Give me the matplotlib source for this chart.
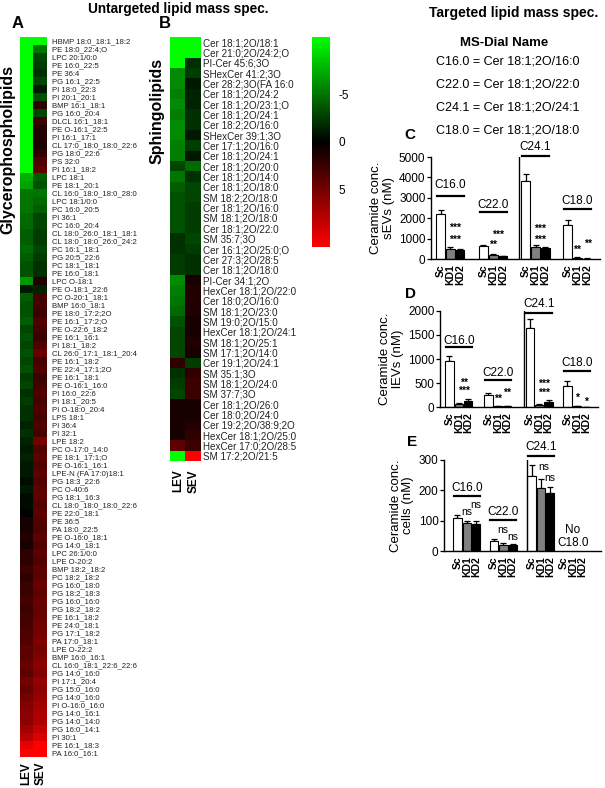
import matplotlib.pyplot as plt
import numpy as np
from matplotlib.colors import LinearSegmentedColormap

plt.rcParams['font.family'] = ['Liberation Sans', 'DejaVu Sans']
plt.rcParams['axes.unicode_minus'] = False

W, H = 605, 788

# ---- untargeted heatmaps (row z-scores) ----
names_a = ["HBMP 18:0_18:1_18:2", "PE 18:0_22:4;O", "LPC 20:1/0:0", "PE 16:0_22:5", "PE 36:4",
           "PG 16:1_22:5", "PI 18:0_22:3", "PI 20:1_20:1", "BMP 16:1_18:1", "PG 16:0_20:4",
           "DLCL 16:1_18:1", "PE O-16:1_22:5", "PI 16:1_17:1", "CL 17:0_18:0_18:0_22:6", "PG 18:0_22:6",
           "PS 32:0", "PI 16:1_18:2", "LPC 18:1", "PE 18:1_20:1", "CL 16:0_18:0_18:0_28:0",
           "LPC 18:1/0:0", "PC 16:0_20:5", "PI 36:1", "PC 16:0_20:4", "CL 18:0_26:0_18:1_18:1",
           "CL 18:0_18:0_26:0_24:2", "PC 16:1_18:1", "PG 20:5_22:6", "PC 18:1_18:1", "PE 16:0_18:1",
           "LPC O-18:1", "PE O-18:1_22:6", "PC O-20:1_18:1", "BMP 16:0_18:1", "PE 18:0_17:2;2O",
           "PE 16:1_17:2;O", "PE O-22:6_18:2", "PE 16:1_16:1", "PI 18:1_18:2", "CL 26:0_17:1_18:1_20:4",
           "PE 16:1_18:2", "PE 22:4_17:1;2O", "PE 16:1_18:1", "PE O-16:1_16:0", "PI 16:0_22:6",
           "PI 18:1_20:5", "PI O-18:0_20:4", "LPS 18:1", "PI 36:4", "PI 32:1",
           "LPE 18:2", "PC O-17:0_14:0", "PE 18:1_17:1;O", "PE O-16:1_16:1", "LPE-N (FA 17:0)18:1",
           "PG 18:3_22:6", "PC O-40:6", "PG 18:1_16:3", "CL 18:0_18:0_18:0_22:6", "PE 22:0_18:1",
           "PE 36:5", "PA 18:0_22:5", "PE O-16:0_18:1", "PG 14:0_18:1", "LPC 26:1/0:0",
           "LPE O-20:2", "BMP 18:2_18:2", "PC 18:2_18:2", "PG 16:0_18:0", "PG 18:2_18:3",
           "PG 16:0_16:0", "PG 18:2_18:2", "PE 16:1_18:2", "PE 24:0_18:1", "PG 17:1_18:2",
           "PA 17:0_18:1", "LPE O-22:2", "BMP 16:0_16:1", "CL 16:0_18:1_22:6_22:6", "PG 14:0_16:0",
           "PI 17:1_20:4", "PG 15:0_16:0", "PG 14:0_16:0", "PI O-16:0_16:0", "PG 14:0_16:1",
           "PG 14:0_14:0", "PG 16:0_14:1", "PI 30:1", "PE 16:1_18:3", "PA 16:0_16:1"]
lev_a = ([-11] * 17 + [-7.5, -7]
         + [-5, -5, -5, -4.5, -4.5, -4, -4, -4.5, -4, -3.5, -3.5]
         + [-6.5, -1]
         + [-4, -3.5, -3.5, -4, -3, -3.5, -3, -3.5, -3, -3.5, -2.5, -3, -2, -2.5, -2]
         + [-2, -1.5, -2, -1.5, -1, -1.5, -1, -1, -0.5, -1, -0.5, -0.5, 0]
         + [1, 1, 1.5, 1, 2, 2, 2.5, 2, 2.5, 2.5, 3, 2.5, 3, 3, 3.5]
         + [3.5, 4, 4, 4.5, 4, 5, 4.5, 5, 5.5, 6, 6, 7, 8, 10, 11])
sev_a = ([-11, -5, -3, -2.5, -2, -3, -1, -3.5, 2, -3, 2.5, 1.5, 1.5, 1.2, 2, 3.5, 4]
         + [-4, -3.5]
         + [-5, -4.5, -4, -3, -3, -2.5, -2.5, -3, -2.5, -2, -2]
         + [1.5, -1.5]
         + [3, 3, 2.5, 3.5, 3, 2.5, 3.5, 4.5, 3, 3.5, 2.5, 3, 3.5, 3, 3.5]
         + [3, 3.5, 3, 5, 3.5, 4, 3.5, 4, 3.5, 4, 4, 3.5, 4]
         + [3.5, 3.5, 4, 3.5, 4, 3.5, 4, 4, 4.5, 4, 4.5, 4.5, 4.5, 5, 5]
         + [5.5, 5, 5.5, 6, 5.5, 6.5, 6, 6.5, 7, 7.5, 7.5, 8.5, 9.5, 11, 11])

names_b = ["Cer 18:1;2O/18:1", "Cer 21:0;2O/24:2;O", "PI-Cer 45:6;3O", "SHexCer 41:2;3O",
           "Cer 28:2;3O(FA 16:0", "Cer 18:1;2O/24:2", "Cer 18:1;2O/23:1;O", "Cer 18:1;2O/24:1",
           "Cer 18:2;2O/16:0", "SHexCer 39:1;3O", "Cer 17:1;2O/16:0", "Cer 18:1;2O/24:1",
           "Cer 18:1;2O/20:0", "Cer 18:1;2O/14:0", "Cer 18:1;2O/18:0", "SM 18:2;2O/18:0",
           "Cer 18:1;2O/16:0", "SM 18:1;2O/18:0", "Cer 18:1;2O/22:0", "SM 35:7;3O",
           "Cer 16:1;2O/25:0;O", "Cer 27:3;2O/28:5", "Cer 18:1;2O/18:0", "PI-Cer 34:1;2O",
           "HexCer 18:1;2O/22:0", "Cer 18:0;2O/16:0", "SM 18:1;2O/23:0", "SM 19:0;2O/15:0",
           "HexCer 18:1;2O/24:1", "SM 18:1;2O/25:1", "SM 17:1;2O/14:0", "Cer 19:1;2O/24:1",
           "SM 35:1;3O", "SM 18:1;2O/24:0", "SM 37:7;3O", "Cer 18:1;2O/26:0",
           "Cer 18:0;2O/24:0", "Cer 19:2;2O/38:9;2O", "HexCer 18:1;2O/25:0", "HexCer 17:0;2O/28:5",
           "SM 17:2;2O/21:5"]
lev_b = [-11, -11, -11, -6, -6, -5.5, -6, -5.5, -6, -6, -5.5, -5.5, -3, -5, -4, -3.5, -3.5,
         -3.5, -3.5, -2, -2, -2.5, -2.5, -6, -5.5, -5, -4.5, -3.5, -3, -3, -3, 2, -2, -2.5,
         -3, 1, 1, 1, 1, 4, -11]
sev_b = [-11, -11, -2, -2.5, -1, -1.5, -1.5, -2, -2, -1, -2.5, -1, -4.5, -2, -3, -3, -2.5,
         -2.5, -2.5, -3, -2.5, -2, -2, 1, 1.5, 1.5, 1.5, 1, 1, 1.5, 1, -2.5, 2, 2.5, 2.5,
         1, 1, 1.5, 2, 2.5, 11]

# ---- targeted ceramides ----
groups = ["C16.0", "C22.0", "C24.1", "C18.0"]
conds = ["Sc", "KD1", "KD2"]
sev_mean = [[2200, 480, 430], [620, 190, 130], [3800, 580, 540], [1650, 70, 20]]
sev_err = [[200, 130, 80], [60, 70, 30], [380, 130, 60], [250, 30, 10]]
lev_mean = [[950, 60, 130], [260, 15, 15], [1650, 40, 100], [430, 20, 5]]
lev_err = [[115, 20, 40], [40, 8, 8], [190, 15, 40], [120, 10, 3]]
cell_mean = [[110, 93, 88], [33, 20, 20], [248, 208, 190]]
cell_err = [[8, 5, 10], [6, 5, 4], [35, 28, 22]]
msdial = ["C16.0 = Cer 18:1;2O/16:0", "C22.0 = Cer 18:1;2O/22:0",
          "C24.1 = Cer 18:1;2O/24:1", "C18.0 = Cer 18:1;2O/18:0"]


def box(x0, y0, x1, y1):
    return [x0 / W, 1 - y1 / H, (x1 - x0) / W, (y1 - y0) / H]


def ftext(x, y, s, **kw):
    fig.text(x / W, 1 - y / H, s, ha='center', va='center', **kw)


fig = plt.figure(figsize=(6.05, 7.88), dpi=100)
cmap = LinearSegmentedColormap.from_list('gkr', ['#00ff00', '#000000', '#ff0000'])


def heatmap(rect, lev, sev, names, fsize, pad, xpad):
    ax = fig.add_axes(box(*rect))
    im = ax.imshow(np.column_stack([lev, sev]), cmap=cmap, vmin=-11, vmax=11,
                   aspect='auto', interpolation='nearest')
    ax.set_yticks(range(len(names)))
    ax.set_yticklabels(names, fontsize=fsize, color='#222222')
    ax.yaxis.tick_right()
    ax.tick_params(axis='y', length=0, pad=pad)
    ax.set_xticks([0, 1])
    ax.set_xticklabels(["LEV", "SEV"], rotation=90, fontsize=8.5, fontweight='bold')
    ax.tick_params(axis='x', length=0, pad=xpad)
    for s in ax.spines.values():
        s.set_visible(False)
    return im


im = heatmap((20, 37, 47, 757), lev_a, sev_a, names_a, 5.6, 3.6, 3.5)
heatmap((170, 37, 201, 461), lev_b, sev_b, names_b, 7.1, 1.5, 6)

cax = fig.add_axes(box(312, 37, 330, 247))
cb = fig.colorbar(im, cax=cax, ticks=[-5, 0, 5])
cb.outline.set_visible(False)
cax.invert_yaxis()
cax.tick_params(length=0, labelsize=8.5, pad=6)

title_font = ['Liberation Sans Narrow', 'Liberation Sans']
ftext(178, 9, "Untargeted lipid mass spec.", fontsize=9.8, fontweight='bold', family=title_font)
ftext(514, 13, "Targeted lipid mass spec.", fontsize=10, fontweight='bold', family=title_font)
ftext(18, 23, "A", fontsize=12, fontweight='bold')
ftext(165, 23, "B", fontsize=12, fontweight='bold')
ftext(8, 150, "Glycerophospholipids", fontsize=11.5, fontweight='bold', rotation=90, family=title_font)
ftext(157, 111, "Sphingolipids", fontsize=11.5, fontweight='bold', rotation=90, family=title_font)
ftext(504, 43, "MS-Dial Name", fontsize=9.5, fontweight='bold')
for i, line in enumerate(msdial):
    ftext(508, 62 + i * 22.7, line, fontsize=9)
ftext(410, 135, "C", fontsize=11, fontweight='bold')
ftext(410, 294, "D", fontsize=11, fontweight='bold')
ftext(412, 442, "E", fontsize=11, fontweight='bold')

colors = ['white', '#808080', 'black']


def bars(rect, starts, xlim, sep, ylim, step, means, errs, ylabel, lab_y, line_y, marks):
    ax = fig.add_axes(box(*rect))
    xs, names = [], []
    for g, s in enumerate(starts):
        for k in range(3):
            xs.append(s + k)
            names.append(conds[k])
            if g < len(means):
                ax.bar(s + k, means[g][k], width=0.92, color=colors[k],
                       edgecolor='black', linewidth=0.8, zorder=2)
                ax.errorbar(s + k, means[g][k], yerr=[[0], [errs[g][k]]], fmt='none',
                            ecolor='black', elinewidth=0.9, capsize=2, capthick=0.9, zorder=1)
        if g < len(lab_y):
            ax.text(s + 1, lab_y[g], groups[g], ha='center', va='center', fontsize=8.5, clip_on=False)
            ax.plot([s - 0.4, s + 2.4], [line_y[g], line_y[g]], color='black', lw=1.6, clip_on=False)
    for g, off, y, t in marks:
        ax.text(starts[g] + off, y, t, ha='center', va='center', fontsize=7.5,
                fontweight='normal' if t == 'ns' else 'bold', clip_on=False)
    ax.axvline(sep, color='black', lw=1.0)
    ax.set_xlim(*xlim)
    ax.set_ylim(0, ylim)
    ax.set_yticks(np.arange(0, ylim + 1, step))
    ax.set_xticks(xs)
    ax.set_xticklabels(names, rotation=90, fontsize=7.5, fontweight='bold')
    ax.tick_params(axis='x', length=0, pad=4)
    ax.tick_params(axis='y', length=3, width=0.9, labelsize=8.5, pad=1)
    ax.spines['top'].set_visible(False)
    ax.spines['right'].set_visible(False)
    ax.spines['left'].set_linewidth(1.0)
    ax.spines['bottom'].set_linewidth(1.0)
    ax.set_ylabel(ylabel, fontsize=9.5, labelpad=3, linespacing=1.1)
    return ax


bars((431, 157, 600, 259), [0, 4.43, 8.8, 13.1], (-0.98, 16.44), 8.09, 5000, 1000,
     sev_mean, sev_err, "Ceramide conc.\nsEVs (nM)",
     [3650, 2660, 5490, 2860], [3100, 2320, 5050, 2460],
     [(0, 1.5, 1530, '***'), (0, 1.5, 935, '***'), (1, 1.5, 1180, '***'), (1, 1.0, 690, '**'),
      (2, 1.5, 1480, '***'), (2, 1.5, 935, '***'), (3, 1.0, 440, '**'), (3, 2.1, 740, '**')])

bars((440, 311, 598, 407), [0, 4.19, 8.66, 12.69], (-1.02, 15.97), 8.01, 2000, 500,
     lev_mean, lev_err, "Ceramide conc.\nlEVs (nM)",
     [1370, 715, 2140, 920], [1245, 570, 1960, 740],
     [(0, 1.6, 510, '**'), (0, 1.6, 330, '***'), (1, 2.0, 305, '**'), (1, 1.0, 160, '**'),
      (2, 1.5, 490, '***'), (2, 1.5, 305, '***'), (3, 1.0, 200, '*'), (3, 2.0, 100, '*')])

ax_e = bars((444, 460, 601, 551), [0, 3.92, 7.96, 11.4], (-1.45, 15.43), 7.47, 300, 100,
            cell_mean, cell_err, "Ceramide conc.\ncells (nM)",
            [207, 127, 343], [180, 103, 313],
            [(0, 1.0, 127, 'ns'), (0, 2.0, 150, 'ns'), (1, 1.0, 70, 'ns'), (1, 2.0, 47, 'ns'),
             (2, 1.3, 277, 'ns'), (2, 2.0, 240, 'ns')])
ax_e.text(12.4, 47, "No\nC18.0", ha='center', va='center', fontsize=8.5, linespacing=1.1)

fig.savefig("out.png", dpi=100)
